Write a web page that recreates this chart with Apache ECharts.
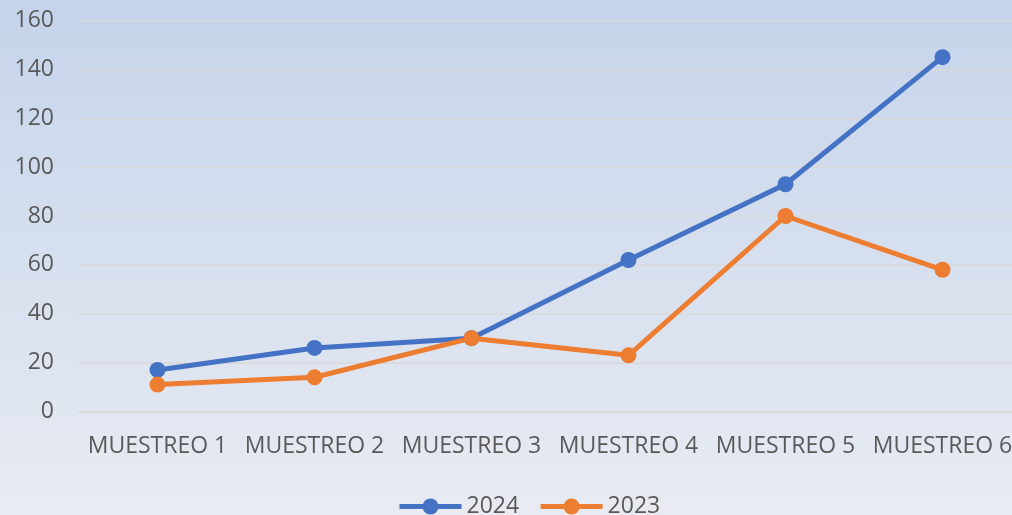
<!DOCTYPE html>
<html>
<head>
<meta charset="utf-8">
<style>
  html, body { margin: 0; padding: 0; }
  #chart { width: 1012px; height: 515px; }
</style>
<script src="https://cdn.jsdelivr.net/npm/echarts@6/dist/echarts.min.js"></script>
</head>
<body>
<div id="chart"></div>
<script>
  // datos
  const categories = ['MUESTREO 1', 'MUESTREO 2', 'MUESTREO 3', 'MUESTREO 4', 'MUESTREO 5', 'MUESTREO 6']
  const values2024 = [17, 26, 30, 62, 93, 145]
  const values2023 = [11, 14, 30, 23, 80, 58]

  const textColor = '#595959'
  const gridColor = '#D9D9D9'
  const font = 'Open Sans'

  const chart = echarts.init(document.getElementById('chart'))

  function lineSeries(name, data, color) {
    return {
      name: name,
      type: 'line',
      data: data,
      symbol: 'circle',
      symbolSize: 16,
      lineStyle: { color: color, width: 5 },
      itemStyle: { color: color },
      emphasis: { disabled: true },
      animation: false
    }
  }

  chart.setOption({
    backgroundColor: {
      type: 'linear', x: 0, y: 0, x2: 0, y2: 1,
      colorStops: [
        { offset: 0, color: '#C5D4EB' },
        { offset: 1, color: '#E8EBF2' }
      ]
    },
    textStyle: { fontFamily: font, color: textColor },
    grid: { left: 79, top: 20.5, width: 942, height: 391, containLabel: false, outerBoundsMode: 'none' },
    legend: {
      left: 392,
      top: 490,
      itemWidth: 62,
      itemHeight: 20,
      itemGap: 19,
      lineStyle: { width: 5 },
      textStyle: { color: textColor, fontSize: 23, fontFamily: font },
      data: ['2024', '2023']
    },
    xAxis: {
      type: 'category',
      data: categories,
      boundaryGap: true,
      axisLine: { show: true, lineStyle: { color: gridColor, width: 1.5 } },
      axisTick: { show: false },
      axisLabel: { color: textColor, fontSize: 23, fontFamily: font, margin: 23, interval: 0 }
    },
    yAxis: {
      type: 'value',
      min: 0,
      max: 160,
      interval: 20,
      axisLine: { show: false },
      axisTick: { show: false },
      axisLabel: { color: textColor, fontSize: 23, fontFamily: font, margin: 25 },
      splitLine: { lineStyle: { color: gridColor, width: 1.5 } }
    },
    series: [
      lineSeries('2024', values2024, '#4472C4'),
      lineSeries('2023', values2023, '#ED7D31')
    ]
  })
</script>
</body>
</html>
